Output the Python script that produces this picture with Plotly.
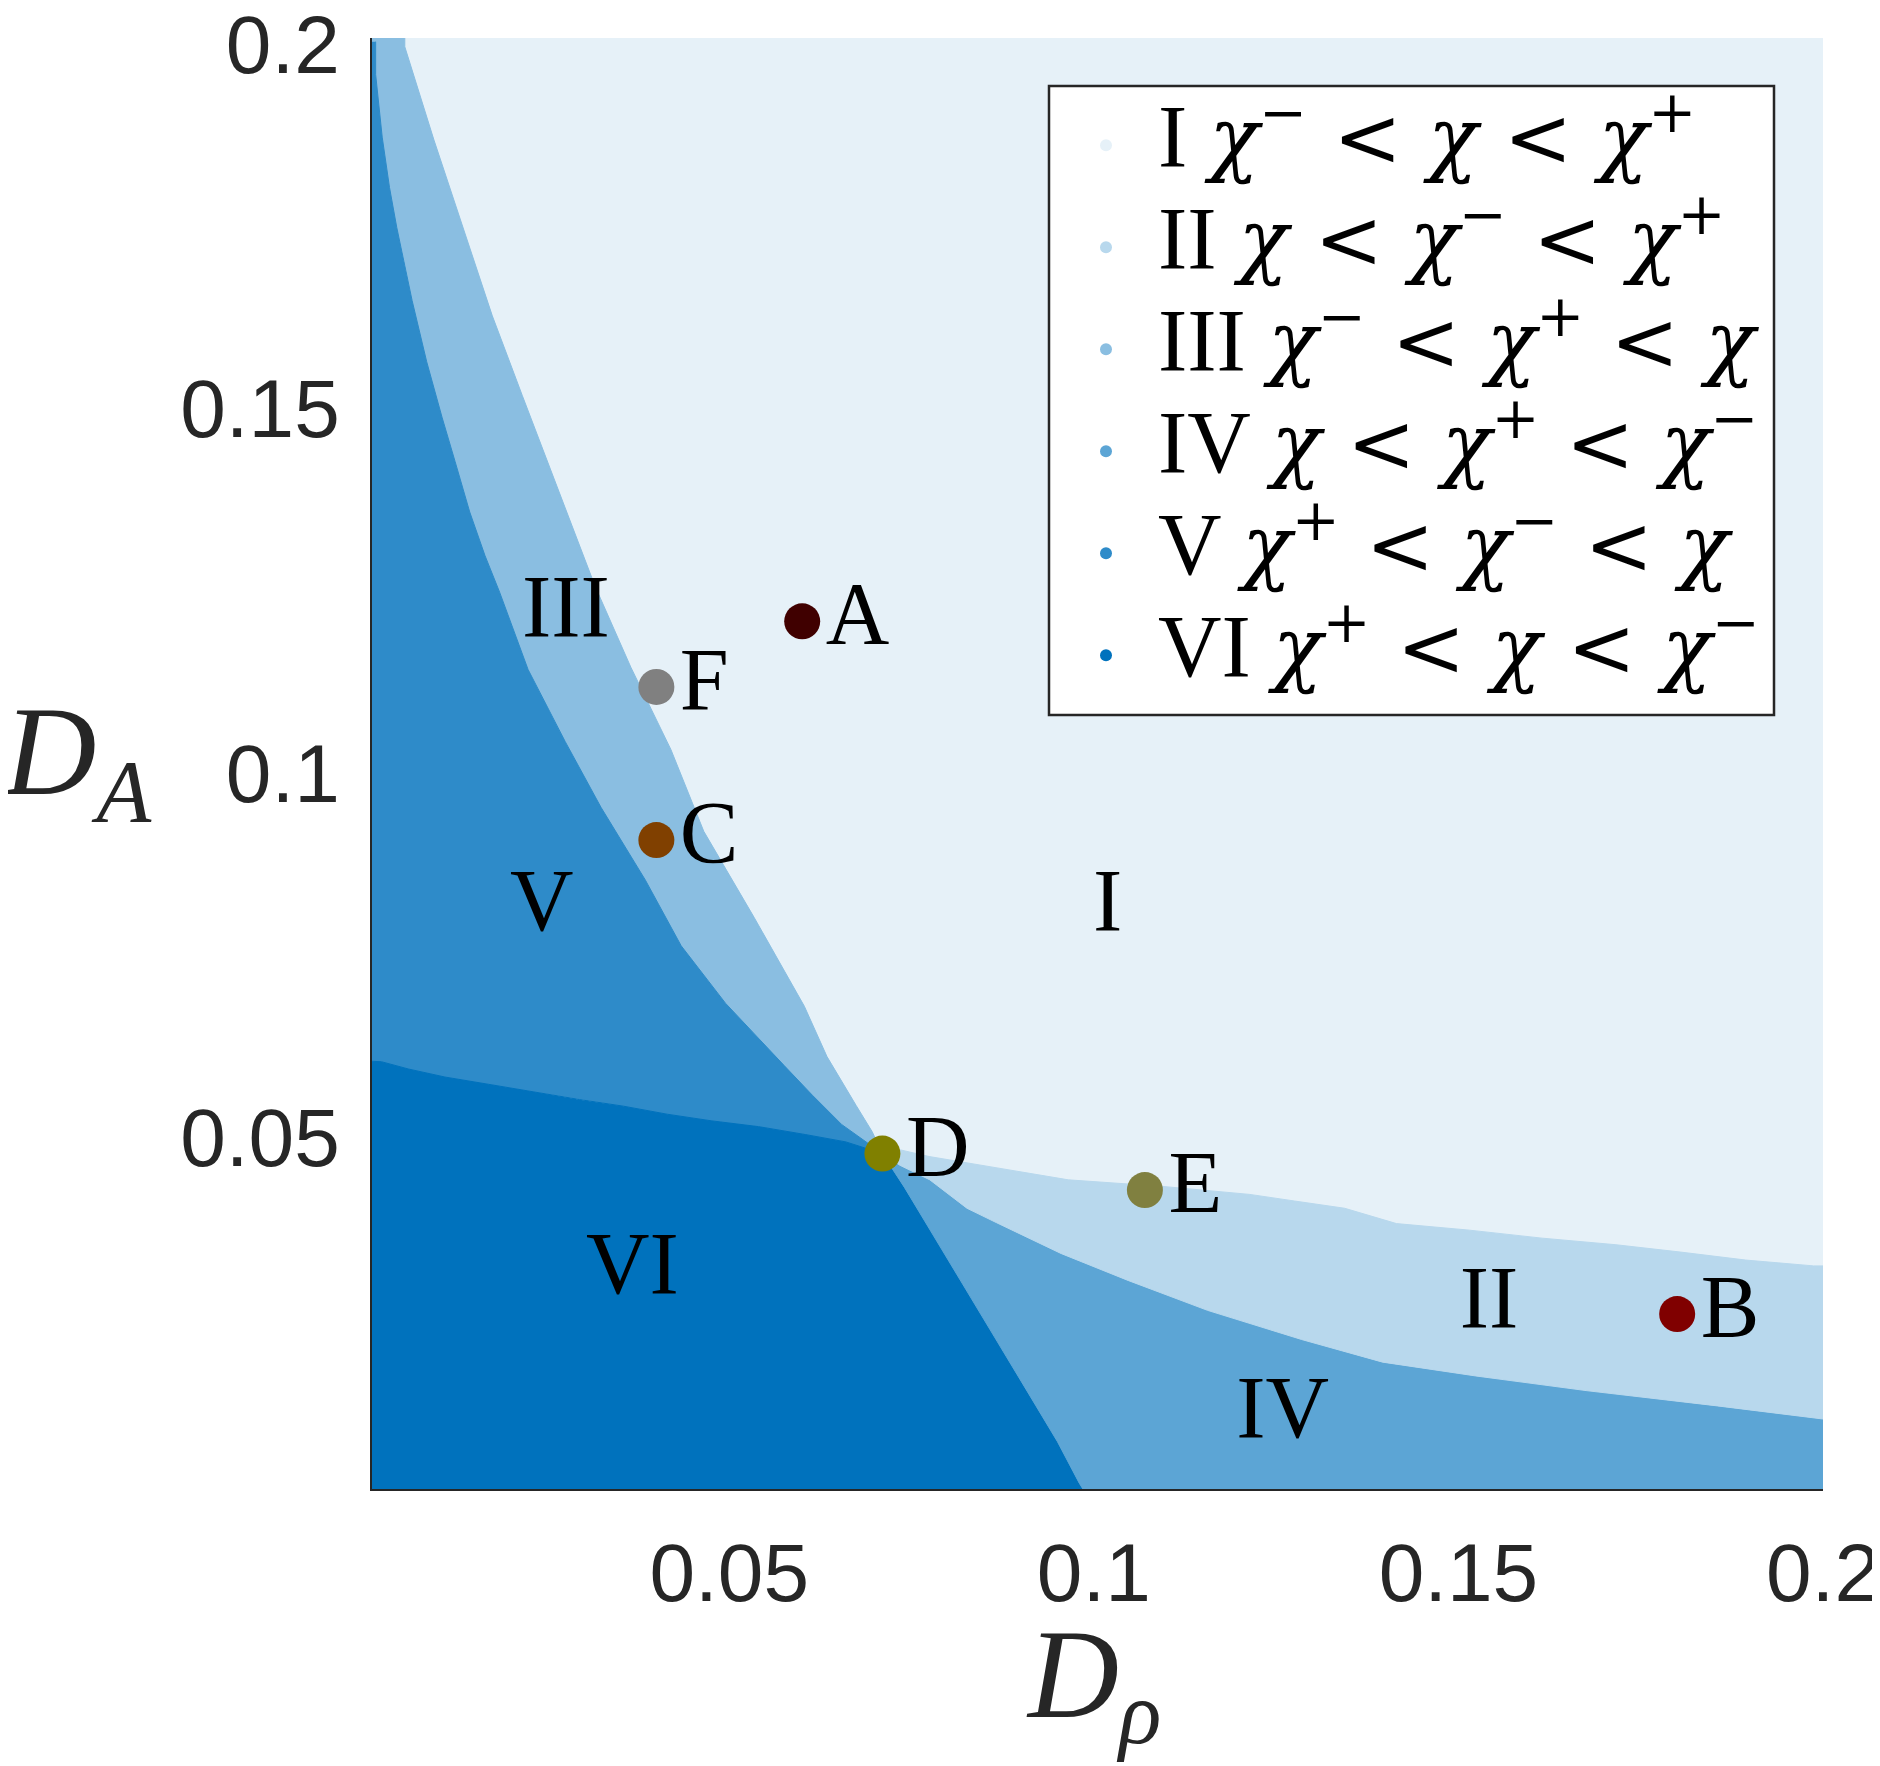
import logging
import sys

import plotly.graph_objects as go

logging.basicConfig(
    stream=sys.stdout, format="%(levelname)s:%(funcName)s:%(lineno)s: %(message)s"
)
logger = logging.getLogger()
logger.setLevel(logging.INFO)

# regions I..VI, colours are the matlab blue blended with white
region_names = ["I", "II", "III", "IV", "V", "VI"]
region_colors = ["#e6f1f8", "#b8d8ed", "#8abee1", "#5ca5d5", "#2e8bc9", "#0072bd"]
# order of chi^-, chi^+ and chi in each region ("-" = chi^-, "+" = chi^+, "" = chi)
region_orders = [
    ["-", "", "+"],
    ["", "-", "+"],
    ["-", "+", ""],
    ["", "+", "-"],
    ["+", "-", ""],
    ["+", "", "-"],
]
label_x = [0.1019, 0.1542, 0.0276, 0.1259, 0.0243, 0.0367]
label_y = [0.0807, 0.0263, 0.1210, 0.0111, 0.0807, 0.0309]

# region boundaries
# I / III (from the top down to the triple point D)
i_iii_x = [0.0055, 0.0055, 0.0095, 0.0135, 0.0175, 0.0216, 0.0265, 0.0316, 0.0365,
           0.0420, 0.0465, 0.0534, 0.0603, 0.0634, 0.0674, 0.0696, 0.0710]
i_iii_y = [0.2000, 0.1988, 0.1860, 0.1739, 0.1619, 0.1510, 0.1381, 0.1248, 0.1137,
           0.1024, 0.0912, 0.0794, 0.0672, 0.0603, 0.0536, 0.0500, 0.0470]
# III / V
iii_v_x = [0.0015, 0.0015, 0.0024, 0.0034, 0.0044, 0.0055, 0.0065, 0.0085, 0.0106,
           0.0124, 0.0144, 0.0165, 0.0185, 0.0224, 0.0275, 0.0324, 0.0385, 0.0434,
           0.0495, 0.0575, 0.0614, 0.0654, 0.0710]
iii_v_y = [0.1995, 0.1950, 0.1864, 0.1795, 0.1740, 0.1690, 0.1640, 0.1556, 0.1480,
           0.1419, 0.1350, 0.1290, 0.1240, 0.1134, 0.1035, 0.0945, 0.0845, 0.0755,
           0.0676, 0.0591, 0.0550, 0.0510, 0.0470]
# V / VI (left edge to D)
v_vi_x = [0.0010, 0.0023, 0.0060, 0.0110, 0.0170, 0.0235, 0.0295, 0.0355, 0.0415,
          0.0475, 0.0540, 0.0605, 0.0660, 0.0710]
v_vi_y = [0.0597, 0.0596, 0.0586, 0.0575, 0.0565, 0.0554, 0.0544, 0.0535, 0.0524,
          0.0515, 0.0507, 0.0496, 0.0486, 0.0470]
# VI / IV (D down to the bottom)
vi_iv_x = [0.0710, 0.0740, 0.0771, 0.0801, 0.0830, 0.0860, 0.0890, 0.0920, 0.0950,
           0.0980, 0.0985]
vi_iv_y = [0.0470, 0.0424, 0.0374, 0.0324, 0.0275, 0.0225, 0.0175, 0.0125, 0.0075,
           0.0018, 0.0010]
# IV / II (D to the right edge)
iv_ii_x = [0.0710, 0.0734, 0.0775, 0.0826, 0.0867, 0.0955, 0.1047, 0.1156, 0.1285,
           0.1396, 0.1524, 0.1675, 0.1855, 0.2000]
iv_ii_y = [0.0470, 0.0454, 0.0434, 0.0395, 0.0375, 0.0333, 0.0296, 0.0255, 0.0215,
           0.0184, 0.0165, 0.0145, 0.0124, 0.0106]
# II / I (D to the right edge)
ii_i_x = [0.0710, 0.0735, 0.0774, 0.0845, 0.0896, 0.0965, 0.1094, 0.1214, 0.1275,
          0.1344, 0.1415, 0.1515, 0.1615, 0.1716, 0.1804, 0.1894, 0.1987, 0.2000]
ii_i_y = [0.0470, 0.0475, 0.0466, 0.0454, 0.0445, 0.0434, 0.0425, 0.0414, 0.0405,
          0.0395, 0.0374, 0.0365, 0.0354, 0.0345, 0.0335, 0.0324, 0.0316, 0.0316]

# marked parameter sets
point_names = ["A", "B", "C", "D", "E", "F"]
point_x = [0.060, 0.180, 0.040, 0.071, 0.107, 0.040]
point_y = [0.120, 0.025, 0.090, 0.047, 0.042, 0.111]
point_colors = ["#400000", "#800000", "#804000", "#808000", "#808040", "#808080"]

tick_vals = [0.05, 0.1, 0.15, 0.2]
tick_text = ["0.05", "0.1", "0.15", "0.2"]

# layout, in pixels of the 1880x1766 page (the html body adds an 8px margin)
PAGE_OFFSET = 8
FIG_W, FIG_H = 1880 - PAGE_OFFSET, 1766 - PAGE_OFFSET
PLOT_L, PLOT_T, PLOT_W, PLOT_H = 372, 38, 1451, 1451
LO, HI = 0.0, 0.21  # polygon corners, outside the visible range and clipped
SERIF = "Liberation Serif"
MATH = "DejaVu Serif"
SANS = "Liberation Sans"
DARK = "#262626"


def px_x(px):
    return (px - PLOT_L) / PLOT_W


def px_y(px):
    return (PLOT_T + PLOT_H - px) / PLOT_H


def region_trace(xs, ys, color):
    return go.Scatter(
        x=xs,
        y=ys,
        mode="lines",
        fill="toself",
        fillcolor=color,
        line=dict(color=color, width=1),
        hoverinfo="skip",
        showlegend=False,
    )


def chi(sign):
    sup = {"-": "<sup>\u2212</sup>", "+": "<sup>+</sup>", "": ""}[sign]
    return "<i>\u03c7</i>" + sup


def condition_text(name, order):
    math = " &lt; ".join(chi(s) for s in order)
    return f'{name} <span style="font-family:{MATH};font-size:82px">{math}</span>'


rev = lambda a: a[::-1]

fig = go.Figure()

# III: between I/III and III/V
fig.add_trace(region_trace(
    [LO, i_iii_x[0]] + i_iii_x + rev(iii_v_x) + [LO],
    [HI, HI] + i_iii_y + rev(iii_v_y) + [iii_v_y[0]],
    region_colors[2],
))
# V: between III/V and V/VI
fig.add_trace(region_trace(
    iii_v_x + rev(v_vi_x) + [LO, LO],
    iii_v_y + rev(v_vi_y) + [v_vi_y[0], iii_v_y[0]],
    region_colors[4],
))
# VI: below V/VI, left of VI/IV
fig.add_trace(region_trace(
    [LO] + v_vi_x + vi_iv_x + [vi_iv_x[-1], LO],
    [v_vi_y[0]] + v_vi_y + vi_iv_y + [LO, LO],
    region_colors[5],
))
# IV: between VI/IV and IV/II
fig.add_trace(region_trace(
    [vi_iv_x[-1]] + rev(vi_iv_x) + iv_ii_x + [HI, HI],
    [LO] + rev(vi_iv_y) + iv_ii_y + [iv_ii_y[-1], LO],
    region_colors[3],
))
# II: between IV/II and II/I
fig.add_trace(region_trace(
    ii_i_x + [HI, HI] + rev(iv_ii_x),
    ii_i_y + [ii_i_y[-1], iv_ii_y[-1]] + rev(iv_ii_y),
    region_colors[1],
))
logger.info("Added the region polygons")

fig.add_trace(go.Scatter(
    x=label_x,
    y=label_y,
    mode="text",
    text=region_names,
    textfont=dict(family=SERIF, size=88, color="black"),
    hoverinfo="skip",
    showlegend=False,
))
fig.add_trace(go.Scatter(
    x=point_x,
    y=point_y,
    mode="markers+text",
    text=point_names,
    textposition="middle right",
    textfont=dict(family=SERIF, size=88, color="black"),
    marker=dict(size=36, color=point_colors, line=dict(width=0)),
    cliponaxis=False,
    showlegend=False,
))

axis_style = dict(
    tickvals=tick_vals,
    ticktext=tick_text,
    tickfont=dict(family=SANS, size=82, color=DARK),
    ticklabeloverflow="allow",
    showline=True,
    linecolor=DARK,
    linewidth=1.5,
    showgrid=False,
    zeroline=False,
    ticks="",
    automargin=False,
    fixedrange=True,
    range=[0.001, 0.2],
)
fig.update_xaxes(**axis_style, ticklabelstandoff=12)
fig.update_yaxes(**axis_style, ticklabelstandoff=14, ticklabelshift=6)

# legend drawn by hand: frame, coloured dots, text rows
shapes = [dict(
    type="rect", xref="paper", yref="paper",
    x0=px_x(1049), x1=px_x(1774), y0=px_y(715), y1=px_y(86),
    line=dict(color=DARK, width=2.5), fillcolor="white", layer="above",
)]
annotations = []
for k, (name, order, color) in enumerate(zip(region_names, region_orders, region_colors)):
    row_y = 145.3 + 102.0 * k
    shapes.append(dict(
        type="circle", xref="paper", yref="paper",
        x0=px_x(1100), x1=px_x(1112), y0=px_y(row_y + 6), y1=px_y(row_y - 6),
        line=dict(width=0), fillcolor=color, layer="above",
    ))
    annotations.append(dict(
        xref="paper", yref="paper", x=px_x(1156), y=px_y(row_y - 13),
        xanchor="left", yanchor="middle", showarrow=False,
        text=condition_text(name, order),
        font=dict(family=SERIF, size=88, color="black"),
    ))

annotations.append(dict(
    xref="paper", yref="paper", x=px_x(0), y=px_y(760),
    xanchor="left", yanchor="middle", showarrow=False,
    text="<i>D</i><sub><i>A</i></sub>",
    font=dict(family=SERIF, size=128, color=DARK),
))
annotations.append(dict(
    xref="paper", yref="paper", x=px_x(1093), y=px_y(1684),
    xanchor="center", yanchor="middle", showarrow=False,
    text="<i>D</i><sub><i>\u03c1</i></sub>",
    font=dict(family=SERIF, size=126, color=DARK),
))

fig.update_layout(
    width=FIG_W,
    height=FIG_H,
    margin=dict(
        l=PLOT_L - PAGE_OFFSET,
        r=FIG_W - (PLOT_L - PAGE_OFFSET) - PLOT_W,
        t=PLOT_T - PAGE_OFFSET,
        b=FIG_H - (PLOT_T - PAGE_OFFSET) - PLOT_H,
        autoexpand=False,
    ),
    plot_bgcolor=region_colors[0],
    paper_bgcolor="white",
    showlegend=False,
    shapes=shapes,
    annotations=annotations,
)

fig.write_html("out.html")
